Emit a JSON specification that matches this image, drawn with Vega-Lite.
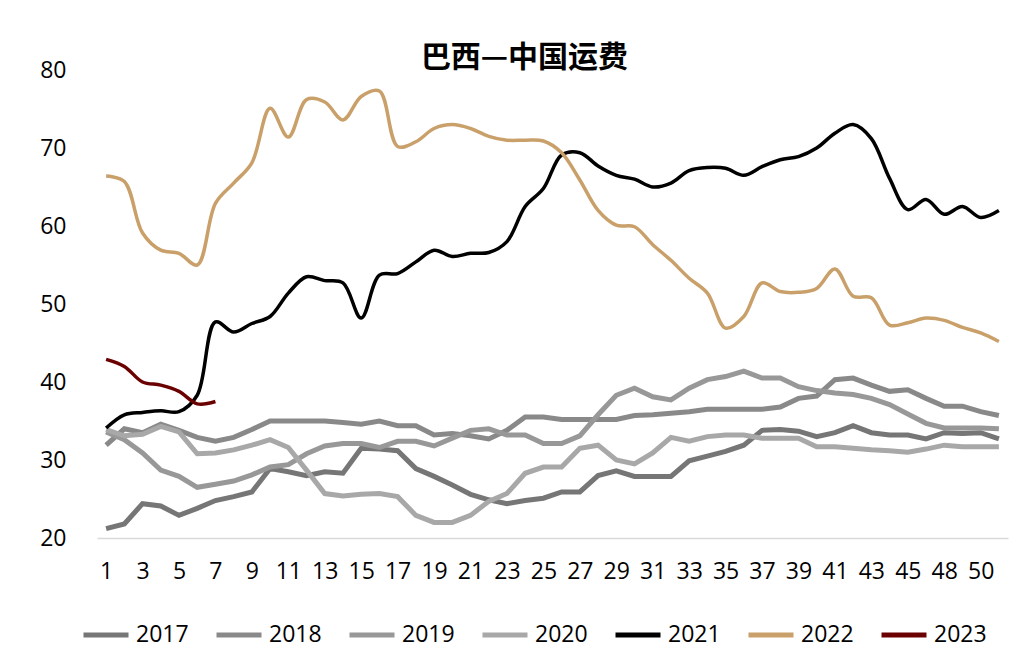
{
  "$schema": "https://vega.github.io/schema/vega-lite/v6.json",
  "width": 911,
  "height": 468,
  "autosize": {"type": "none"},
  "padding": {"left": 97, "top": 70, "right": 16, "bottom": 133},
  "background": "white",
  "title": {"text": "巴西—中国运费", "font": "Noto Sans CJK SC", "fontSize": 30, "fontWeight": "bold", "color": "black", "anchor": "middle", "frame": "group", "dx": -28, "offset": -14},
  "config": {"view": {"stroke": null}},
  "data": {"values": [
    {"w": 1, "2017": 21.2, "2018": 31.9, "2019": 33.6, "2020": 33.9, "2021": 34.1, "2022": 66.4, "2023": 42.9},
    {"w": 2, "2017": 21.8, "2018": 34.0, "2019": 32.6, "2020": 33.1, "2021": 35.8, "2022": 65.7, "2023": 42.0},
    {"w": 3, "2017": 24.4, "2018": 33.5, "2019": 30.9, "2020": 33.3, "2021": 36.1, "2022": 59.1, "2023": 40.0},
    {"w": 4, "2017": 24.1, "2018": 34.6, "2019": 28.7, "2020": 34.3, "2021": 36.3, "2022": 56.9, "2023": 39.6},
    {"w": 5, "2017": 22.9, "2018": 33.8, "2019": 27.9, "2020": 33.6, "2021": 36.2, "2022": 56.5, "2023": 38.8},
    {"w": 6, "2017": 23.8, "2018": 32.9, "2019": 26.5, "2020": 30.8, "2021": 38.3, "2022": 55.0, "2023": 37.2},
    {"w": 7, "2017": 24.8, "2018": 32.4, "2019": 26.9, "2020": 30.9, "2021": 47.7, "2022": 62.9, "2023": 37.5},
    {"w": 8, "2017": 25.3, "2018": 32.9, "2019": 27.3, "2020": 31.3, "2021": 46.4, "2022": 65.5},
    {"w": 9, "2017": 25.9, "2018": 33.9, "2019": 28.1, "2020": 31.9, "2021": 47.5, "2022": 68.1},
    {"w": 10, "2017": 28.9, "2018": 35.0, "2019": 29.1, "2020": 32.6, "2021": 48.4, "2022": 75.1},
    {"w": 11, "2017": 28.5, "2018": 35.0, "2019": 29.4, "2020": 31.6, "2021": 51.4, "2022": 71.4},
    {"w": 12, "2017": 28.0, "2018": 35.0, "2019": 30.8, "2020": 28.7, "2021": 53.5, "2022": 76.2},
    {"w": 13, "2017": 28.5, "2018": 35.0, "2019": 31.8, "2020": 25.7, "2021": 53.0, "2022": 75.9},
    {"w": 14, "2017": 28.3, "2018": 34.8, "2019": 32.1, "2020": 25.4, "2021": 52.7, "2022": 73.6},
    {"w": 15, "2017": 31.5, "2018": 34.6, "2019": 32.1, "2020": 25.6, "2021": 48.2, "2022": 76.6},
    {"w": 16, "2017": 31.4, "2018": 35.0, "2019": 31.6, "2020": 25.7, "2021": 53.7, "2022": 77.3},
    {"w": 17, "2017": 31.2, "2018": 34.4, "2019": 32.4, "2020": 25.3, "2021": 53.9, "2022": 70.2},
    {"w": 18, "2017": 28.9, "2018": 34.4, "2019": 32.4, "2020": 22.9, "2021": 55.4, "2022": 70.8},
    {"w": 19, "2017": 27.9, "2018": 33.2, "2019": 31.8, "2020": 22.0, "2021": 56.9, "2022": 72.5},
    {"w": 20, "2017": 26.8, "2018": 33.4, "2019": 32.8, "2020": 22.0, "2021": 56.1, "2022": 73.0},
    {"w": 21, "2017": 25.6, "2018": 33.1, "2019": 33.8, "2020": 22.9, "2021": 56.5, "2022": 72.5},
    {"w": 22, "2017": 24.9, "2018": 32.7, "2019": 34.0, "2020": 24.7, "2021": 56.6, "2022": 71.5},
    {"w": 23, "2017": 24.4, "2018": 33.8, "2019": 33.2, "2020": 25.7, "2021": 58.0, "2022": 71.0},
    {"w": 24, "2017": 24.8, "2018": 35.5, "2019": 33.2, "2020": 28.3, "2021": 62.5, "2022": 71.0},
    {"w": 25, "2017": 25.1, "2018": 35.5, "2019": 32.1, "2020": 29.1, "2021": 64.8, "2022": 70.9},
    {"w": 26, "2017": 25.9, "2018": 35.2, "2019": 32.1, "2020": 29.1, "2021": 69.1, "2022": 69.4},
    {"w": 27, "2017": 25.9, "2018": 35.2, "2019": 33.1, "2020": 31.5, "2021": 69.4, "2022": 65.9},
    {"w": 28, "2017": 28.0, "2018": 35.2, "2019": 35.8, "2020": 31.9, "2021": 67.7, "2022": 62.0},
    {"w": 29, "2017": 28.6, "2018": 35.2, "2019": 38.3, "2020": 30.0, "2021": 66.5, "2022": 60.1},
    {"w": 30, "2017": 27.9, "2018": 35.7, "2019": 39.2, "2020": 29.5, "2021": 66.0, "2022": 59.9},
    {"w": 31, "2017": 27.9, "2018": 35.8, "2019": 38.1, "2020": 30.9, "2021": 65.0, "2022": 57.6},
    {"w": 32, "2017": 27.9, "2018": 36.0, "2019": 37.7, "2020": 32.9, "2021": 65.5, "2022": 55.6},
    {"w": 33, "2017": 29.9, "2018": 36.2, "2019": 39.2, "2020": 32.4, "2021": 67.1, "2022": 53.3},
    {"w": 34, "2017": 30.5, "2018": 36.5, "2019": 40.3, "2020": 33.0, "2021": 67.5, "2022": 51.4},
    {"w": 35, "2017": 31.1, "2018": 36.5, "2019": 40.7, "2020": 33.2, "2021": 67.4, "2022": 46.9},
    {"w": 36, "2017": 31.9, "2018": 36.5, "2019": 41.4, "2020": 33.2, "2021": 66.5, "2022": 48.4},
    {"w": 37, "2017": 33.8, "2018": 36.5, "2019": 40.5, "2020": 32.8, "2021": 67.6, "2022": 52.7},
    {"w": 38, "2017": 33.9, "2018": 36.8, "2019": 40.5, "2020": 32.8, "2021": 68.5, "2022": 51.6},
    {"w": 39, "2017": 33.7, "2018": 37.9, "2019": 39.4, "2020": 32.8, "2021": 68.9, "2022": 51.5},
    {"w": 40, "2017": 33.0, "2018": 38.2, "2019": 38.9, "2020": 31.7, "2021": 70.0, "2022": 52.0},
    {"w": 41, "2017": 33.5, "2018": 40.3, "2019": 38.6, "2020": 31.7, "2021": 71.9, "2022": 54.5},
    {"w": 42, "2017": 34.4, "2018": 40.5, "2019": 38.4, "2020": 31.5, "2021": 73.0, "2022": 51.0},
    {"w": 43, "2017": 33.5, "2018": 39.6, "2019": 37.9, "2020": 31.3, "2021": 71.2, "2022": 50.8},
    {"w": 44, "2017": 33.2, "2018": 38.8, "2019": 37.1, "2020": 31.2, "2021": 66.1, "2022": 47.3},
    {"w": 45, "2017": 33.2, "2018": 39.0, "2019": 35.9, "2020": 31.0, "2021": 62.1, "2022": 47.6},
    {"w": 47, "2017": 32.7, "2018": 37.9, "2019": 34.7, "2020": 31.4, "2021": 63.4, "2022": 48.2},
    {"w": 48, "2017": 33.5, "2018": 36.9, "2019": 34.1, "2020": 31.9, "2021": 61.5, "2022": 47.9},
    {"w": 49, "2017": 33.4, "2018": 36.9, "2019": 34.1, "2020": 31.7, "2021": 62.5, "2022": 47.0},
    {"w": 50, "2017": 33.5, "2018": 36.2, "2019": 34.1, "2020": 31.7, "2021": 61.1, "2022": 46.3},
    {"w": 51, "2017": 32.7, "2018": 35.7, "2019": 34.0, "2020": 31.7, "2021": 62.0, "2022": 45.2}
  ]},
  "transform": [
    {"fold": ["2017", "2018", "2019", "2020", "2021", "2022", "2023"], "as": ["year", "v"]},
    {"filter": "isValid(datum.v)"}
  ],
  "encoding": {
    "x": {
      "field": "w", "type": "ordinal",
      "scale": {"type": "point", "padding": 0.5},
      "axis": {
        "title": null, "values": [1, 3, 5, 7, 9, 11, 13, 15, 17, 19, 21, 23, 25, 27, 29, 31, 33, 35, 37, 39, 41, 43, 45, 48, 50],
        "labelAngle": 0, "ticks": false, "grid": false,
        "domainColor": "#d9d9d9", "domainWidth": 1.5,
        "labelFont": "Open Sans", "labelFontSize": 23, "labelColor": "black", "labelPadding": 22
      }
    },
    "y": {
      "field": "v", "type": "quantitative",
      "scale": {"domain": [20, 80], "nice": false, "zero": false},
      "axis": {
        "title": null, "values": [20, 30, 40, 50, 60, 70, 80],
        "grid": false, "domain": false, "ticks": false,
        "labelFont": "Open Sans", "labelFontSize": 23, "labelColor": "black", "labelPadding": 31
      }
    },
    "color": {
      "field": "year", "type": "nominal",
      "scale": {
        "domain": ["2017", "2018", "2019", "2020", "2021", "2022", "2023"],
        "range": ["#767676", "#898989", "#989898", "#a8a8a8", "#000000", "#c9a06a", "#6b0000"]
      },
      "legend": {
        "title": null, "orient": "none", "legendX": -16, "legendY": 540,
        "direction": "horizontal", "columns": 7,
        "symbolType": "stroke", "symbolSize": 2025, "symbolStrokeWidth": 5,
        "labelFont": "Open Sans", "labelFontSize": 23, "labelColor": "black",
        "labelOffset": 5, "columnPadding": 17
      }
    }
  },
  "layer": [
    {
      "transform": [{"filter": {"field": "year", "oneOf": ["2017", "2018", "2019", "2020"]}}],
      "mark": {"type": "line", "interpolate": "linear", "strokeWidth": 5}
    },
    {
      "transform": [{"filter": {"field": "year", "oneOf": ["2021", "2022", "2023"]}}],
      "mark": {"type": "line", "interpolate": "catmull-rom", "strokeWidth": 3.5}
    }
  ]
}
